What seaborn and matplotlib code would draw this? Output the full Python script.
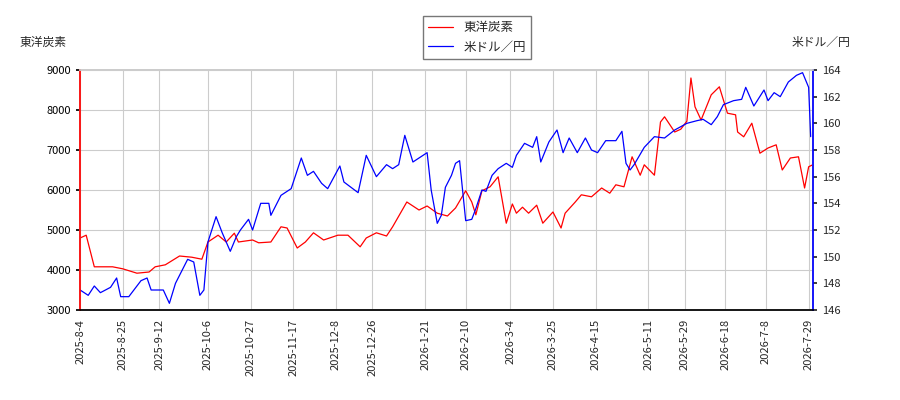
import matplotlib
matplotlib.use("Agg")
import matplotlib.pyplot as plt
import seaborn as sns
import pandas as pd
import numpy as np

sns.set_theme(style="whitegrid")
plt.rcParams['font.family'] = ['Noto Sans CJK JP', 'DejaVu Sans']

start = pd.Timestamp("2025-08-04")
tick_labels = ["2025-8-4","2025-8-25","2025-9-12","2025-10-6","2025-10-27","2025-11-17","2025-12-8","2025-12-26",
               "2026-1-21","2026-2-10","2026-3-4","2026-3-25","2026-4-15","2026-5-11","2026-5-29","2026-6-18","2026-7-8","2026-7-29"]
red_days = [0,3,7,16,21,28,34,37,42,49,55,60,63,68,72,76,78,85,88,94,99,102,107,111,115,120,127,132,138,141,146,151,154,161,167,171,
            176,181,185,190,193,195,198,202,206,210,213,215,218,221,225,228,233,237,239,244,247,252,257,261,264,268,272,276,278,283,286,288,
            293,296,299,301,303,306,311,315,319,323,324,327,331,335,339,343,346,350,354,357,359,361]
red_vals = [4800,4870,4080,4080,4030,3920,3950,4080,4130,4350,4320,4270,4700,4870,4700,4920,4700,4750,4680,4700,5080,5050,4550,4700,4930,4750,4870,4870,4580,4800,4930,4850,5080,5700,5500,5600,
            5420,5350,5550,5980,5700,5380,5980,6080,6330,5170,5650,5420,5570,5420,5620,5170,5450,5050,5420,5700,5880,5830,6050,5920,6130,6080,6830,6370,6630,6370,7700,7830,
            7450,7520,7720,8800,8080,7750,8380,8580,7920,7880,7450,7330,7670,6920,7050,7130,6500,6800,6830,6050,6580,6630]
blue_days = [0,4,7,10,15,18,20,24,30,33,35,41,44,47,53,56,59,61,63,67,70,74,77,79,83,85,89,93,94,99,104,109,112,115,119,122,128,130,137,138,141,146,151,154,157,160,164,167,171,173,
             176,178,180,183,185,187,190,193,195,198,200,203,206,210,213,215,219,223,225,227,231,235,238,241,245,249,252,255,259,264,267,269,271,273,
             278,283,288,293,299,304,307,311,314,317,322,326,328,332,337,339,342,345,349,353,356,359,360]
blue_vals = [147.5,147.1,147.8,147.3,147.7,148.4,147.0,147.0,148.2,148.4,147.5,147.5,146.5,148.0,149.8,149.6,147.1,147.5,151.1,153.0,151.8,150.4,151.5,152.0,152.8,152.0,154.0,154.0,153.1,154.6,155.1,157.4,156.1,156.4,155.5,155.1,156.8,155.6,154.8,155.5,157.6,156.0,156.9,156.6,156.9,159.1,157.1,157.4,157.8,155.0,
             152.5,153.1,155.2,156.1,157.0,157.2,152.7,152.8,153.6,155.0,154.9,156.1,156.6,157.0,156.7,157.6,158.5,158.2,159.0,157.1,158.6,159.5,157.8,158.9,157.8,158.9,158.0,157.8,158.7,158.7,159.4,157.0,156.5,156.9,
             158.2,159.0,158.9,159.5,160.0,160.2,160.3,159.9,160.5,161.4,161.7,161.8,162.7,161.3,162.5,161.7,162.3,162.0,163.1,163.6,163.8,162.7,159.0]

red_df = pd.DataFrame({"date": start + pd.to_timedelta(red_days, unit="D"), "v": red_vals})
blue_df = pd.DataFrame({"date": start + pd.to_timedelta(blue_days, unit="D"), "v": blue_vals})

fig = plt.figure(figsize=(9, 4), dpi=100)
ax = fig.add_axes([0.089, 0.225, 0.814, 0.6])
ax2 = ax.twinx()
sns.lineplot(data=red_df, x="date", y="v", ax=ax, color="red", lw=0.9, label="東洋炭素", legend=False)
sns.lineplot(data=blue_df, x="date", y="v", ax=ax2, color="blue", lw=0.9, label="米ドル／円", legend=False)

ax.set_ylim(3000, 9000)
ax.set_yticks(range(3000, 9001, 1000))
ax2.set_ylim(146, 164)
ax2.set_yticks(range(146, 165, 2))
ax2.grid(False)
ticks = pd.to_datetime(tick_labels)
ax.set_xticks(ticks)
ax.set_xticklabels(tick_labels, rotation=90, fontsize=8)
ax.set_xlim(start, start + pd.Timedelta(days=361))
ax.set_xlabel(""); ax.set_ylabel(""); ax2.set_ylabel("")
for a in (ax, ax2):
    a.set_facecolor("white")
    for s in a.spines.values():
        s.set_color("#cccccc")
ax.tick_params(axis="y", labelsize=8, length=3, colors="black")
ax2.tick_params(axis="y", labelsize=8, length=3)
ax.tick_params(axis="x", length=3)
ax2.spines["left"].set_color("red")
ax2.spines["right"].set_color("blue")
ax2.spines["bottom"].set_color("black")
ax.grid(color="#cccccc", lw=0.8)
fig.text(0.022, 0.885, "東洋炭素", fontsize=8.5)
fig.text(0.945, 0.885, "米ドル／円", fontsize=8.5, ha="right")
h1, l1 = ax.get_legend_handles_labels()
h2, l2 = ax2.get_legend_handles_labels()
fig.legend(h1 + h2, l1 + l2, loc="upper center", bbox_to_anchor=(0.53, 0.975), fontsize=9,
           frameon=True, edgecolor="#555555", fancybox=False)
fig.savefig("out.png")
